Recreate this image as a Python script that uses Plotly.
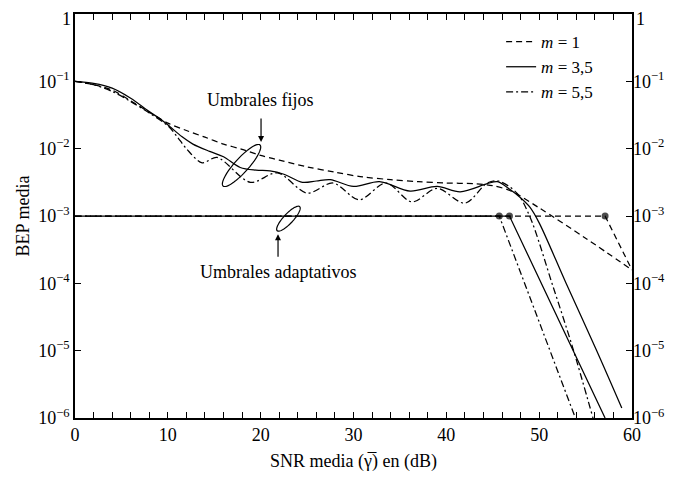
import math
import plotly.graph_objects as go

# ---------------- data ----------------
snr_fixed_m1 = [0, 2, 4, 6, 8, 10, 12, 14, 16, 18, 20, 22, 25, 28, 31, 34, 37, 40, 43, 45, 47, 50, 55, 60]
bep_fixed_m1 = [0.100, 0.0891, 0.0741, 0.0513, 0.0347, 0.0240, 0.0186, 0.0148, 0.0117, 0.00977,
                0.00794, 0.00676, 0.00537, 0.00447, 0.00380, 0.00347, 0.00324, 0.00309, 0.00302,
                0.00282, 0.00234, 0.00132, 4.68e-4, 1.58e-4]

snr_fixed_m35 = [0, 2, 4, 6, 8, 9.2, 10.2, 11.5, 12.7, 14.5, 16, 17.8, 19.5, 21, 22.5, 24.5, 26, 27.5,
                 30, 32.8, 36.1, 39, 41.5, 44.4, 45.5, 46.9, 47.9, 49, 50, 52.9, 56.2, 58.9]
bep_fixed_m35 = [0.100, 0.0933, 0.0794, 0.0562, 0.0355, 0.0275, 0.0214, 0.0151, 0.0117, 0.00912,
                 0.00759, 0.00525, 0.00479, 0.00468, 0.00417, 0.00316, 0.00331, 0.00347, 0.00275,
                 0.00324, 0.00234, 0.00275, 0.00229, 0.00302, 0.00324, 0.00245, 0.00191, 0.00135,
                 7.9e-4, 1.0e-4, 1.0e-5, 1.41e-6]

snr_fixed_m55 = [0, 2, 4, 6, 8, 10, 11, 12, 13.7, 15.3, 18.9, 21.8, 25, 27.8, 30.6, 33.5, 36.3, 39,
                 42, 44.4, 45.6, 47.6, 49, 51.5, 53.6, 55.8]
bep_fixed_m55 = [0.100, 0.0891, 0.0708, 0.0501, 0.0339, 0.0219, 0.0151, 0.0100, 0.00617, 0.00741,
                 0.00316, 0.00437, 0.00219, 0.00309, 0.00174, 0.00309, 0.00162, 0.00257, 0.00155,
                 0.00309, 0.00331, 0.00219, 9.77e-4, 8.91e-5, 1.12e-5, 1.0e-6]

snr_adapt_m1 = [0, 57.1, 60]
bep_adapt_m1 = [1e-3, 1e-3, 1.58e-4]
snr_adapt_m35 = [0, 46.8, 57.1]
bep_adapt_m35 = [1e-3, 1e-3, 1e-6]
snr_adapt_m55 = [0, 45.7, 53.9]
bep_adapt_m55 = [1e-3, 1e-3, 1e-6]

x_ticks = [0, 10, 20, 30, 40, 50, 60]
y_ticks = [1e-6, 1e-5, 1e-4, 1e-3, 1e-2, 1e-1, 1]
y_ticktext = ["10<sup>−6</sup>", "10<sup>−5</sup>", "10<sup>−4</sup>", "10<sup>−3</sup>",
              "10<sup>−2</sup>", "10<sup>−1</sup>", ""]
top_label = "1"
legend_names = ["<i>m</i> = 1", "<i>m</i> = 3,5", "<i>m</i> = 5,5"]

# ---------------- layout geometry ----------------
# (page body adds an 8px offset, so margins are reduced accordingly)
W, H = 678, 479
PW, PH = 557, 404
ML, MT = 67, 6
MR, MB = W - ML - PW, H - MT - PH
FONT = "Liberation Serif, DejaVu Serif, Times New Roman, serif"
FS = 18

DASH = "6px,4px"
DASHDOT = "7px,3px,2px,3px"
LW = 1.25

fig = go.Figure()

styles = [DASH, "solid", DASHDOT]
fixed = [(snr_fixed_m1, bep_fixed_m1), (snr_fixed_m35, bep_fixed_m35), (snr_fixed_m55, bep_fixed_m55)]
adapt = [(snr_adapt_m1, bep_adapt_m1), (snr_adapt_m35, bep_adapt_m35), (snr_adapt_m55, bep_adapt_m55)]

for (xs, ys), dash in zip(adapt, styles):
    fig.add_trace(go.Scatter(
        x=xs, y=ys, mode="lines+markers",
        line=dict(color="black", width=LW, dash=dash),
        marker=dict(color="black", size=[0, 7, 0], line=dict(width=0)),
        showlegend=False, hoverinfo="skip"))

for (xs, ys), dash, name in zip(fixed, styles, legend_names):
    fig.add_trace(go.Scatter(
        x=xs, y=ys, mode="lines", name=name,
        line=dict(color="black", width=LW, dash=dash, shape="spline", smoothing=0.9),
        hoverinfo="skip"))

fig.add_trace(go.Scatter(x=[None], y=[None], yaxis="y2", showlegend=False, hoverinfo="skip"))


def to_px(x, logy):
    return x / 60 * PW, (-logy) / 6 * PH


def ellipse_path(x, logy, a, b, ang_deg, n=72):
    cx, cy = to_px(x, logy)
    th = math.radians(ang_deg)
    pts = []
    for i in range(n + 1):
        t = 2 * math.pi * i / n
        dx = a * math.cos(t) * math.cos(th) - b * math.sin(t) * math.sin(th)
        dy = a * math.cos(t) * math.sin(th) + b * math.sin(t) * math.cos(th)
        px, py = cx + dx, cy - dy
        pts.append((px / PW, (PH - py) / PH))
    return "M " + " L ".join(f"{u:.5f},{v:.5f}" for u, v in pts) + " Z"


shapes = [
    dict(type="path", xref="paper", yref="paper", path=ellipse_path(17.94, -2.25, 27.6, 7.0, 48),
         line=dict(color="black", width=1.2)),
    dict(type="path", xref="paper", yref="paper", path=ellipse_path(22.99, -3.04, 16.5, 4.8, 47),
         line=dict(color="black", width=1.2)),
]

txt_font = dict(size=FS, family=FONT, color="black")
annotations = [
    dict(x=19.93, y=-1.277, text="Umbrales fijos", showarrow=False, font=txt_font),
    dict(x=20.04, y=-1.90, text="", showarrow=True, ax=0, ay=-25, arrowhead=2, arrowsize=1,
         arrowwidth=1.2, arrowcolor="black"),
    dict(x=21.9, y=-3.83, text="Umbrales adaptativos", showarrow=False, font=txt_font),
    dict(x=21.87, y=-3.27, text="", showarrow=True, ax=0, ay=24, arrowhead=2, arrowsize=1,
         arrowwidth=1.2, arrowcolor="black"),
    # the top "1" labels of both y axes
    dict(x=0, y=1, xref="paper", yref="paper", text=top_label, showarrow=False, xanchor="right",
         yanchor="top", xshift=-3, yshift=6, borderpad=0, font=txt_font),
    dict(x=1, y=1, xref="paper", yref="paper", text=top_label, showarrow=False, xanchor="left",
         yanchor="top", xshift=3, yshift=6, borderpad=0, font=txt_font),
]

axis_common = dict(showgrid=False, zeroline=False, ticks="inside", tickcolor="black",
                   tickfont=dict(family=FONT, size=FS, color="black"))

fig.update_layout(
    width=W, height=H,
    margin=dict(l=ML, r=MR, t=MT, b=MB, pad=0),
    paper_bgcolor="white", plot_bgcolor="white",
    font=dict(family=FONT, size=FS, color="black"),
    xaxis=dict(range=[0, 60], tickvals=x_ticks, ticklen=6, showline=True, linecolor="black",
               linewidth=1.5, mirror="allticks",
               minor=dict(dtick=2, ticks="inside", ticklen=3, tickcolor="black"),
               title=dict(text="SNR media (γ\u0305) en (dB)", font=dict(size=FS, family=FONT), standoff=10),
               automargin=False, **axis_common),
    yaxis=dict(type="log", range=[-6, 0], tickvals=y_ticks, ticktext=y_ticktext, ticklen=6,
               showline=True, linecolor="black", linewidth=1.5, mirror=True,
               title=dict(text="BEP media", font=dict(size=FS, family=FONT), standoff=4),
               automargin=False, **axis_common),
    yaxis2=dict(type="log", range=[-6, 0], tickvals=y_ticks, ticktext=y_ticktext, ticklen=6,
                overlaying="y", side="right", showline=False, automargin=False, **axis_common),
    legend=dict(x=0.765, y=0.975, xanchor="left", yanchor="top", bgcolor="rgba(0,0,0,0)",
                font=dict(family=FONT, size=17, color="black"), tracegroupgap=0),
    shapes=shapes,
    annotations=annotations,
)

fig.write_html("out.html")
